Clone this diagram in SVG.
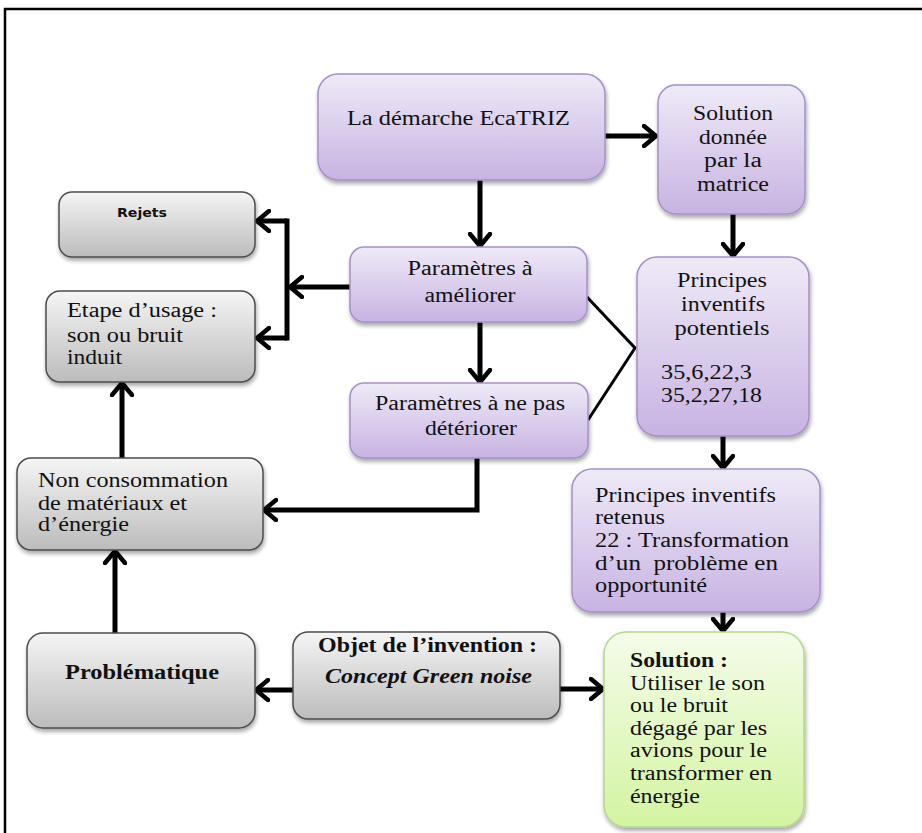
<svg xmlns="http://www.w3.org/2000/svg" width="922" height="833" viewBox="0 0 922 833">
  <style>
    .t { font-family: "Liberation Serif", "DejaVu Serif", serif; font-size: 20px; fill: #111; }
    .b { font-weight: bold; }
    .bi { font-weight: bold; font-style: italic; }
    .c { text-anchor: middle; }
    .sans { font-family: "DejaVu Sans", "Liberation Sans", sans-serif; font-weight: bold; font-size: 13px; fill: #111; }
    .purple { fill: url(#gPurple); stroke: #a590c9; stroke-width: 1.5; filter: url(#shadow); }
    .gray { fill: url(#gGray); stroke: #4d4d4d; stroke-width: 1.5; filter: url(#shadow); }
    .green { fill: url(#gGreen); stroke: #b3d98a; stroke-width: 1.5; filter: url(#shadow); }
    .arrow { fill: none; stroke: #000; stroke-width: 5; marker-end: url(#head); }
    .plain { fill: none; stroke: #000; stroke-width: 3; }
  </style>
  <defs>
    <linearGradient id="gPurple" x1="0" y1="0" x2="0" y2="1">
      <stop offset="0" stop-color="#efeaf7"/>
      <stop offset="1" stop-color="#c7b3e2"/>
    </linearGradient>
    <linearGradient id="gGray" x1="0" y1="0" x2="0" y2="1">
      <stop offset="0" stop-color="#f5f5f5"/>
      <stop offset="1" stop-color="#bcbcbc"/>
    </linearGradient>
    <linearGradient id="gGreen" x1="0" y1="0" x2="0" y2="1">
      <stop offset="0" stop-color="#f4fce9"/>
      <stop offset="1" stop-color="#d3f4a2"/>
    </linearGradient>
    <filter id="shadow" x="-10%" y="-10%" width="125%" height="130%">
      <feGaussianBlur in="SourceAlpha" stdDeviation="2"/>
      <feOffset dx="1" dy="3" result="off"/>
      <feComponentTransfer><feFuncA type="linear" slope="0.35"/></feComponentTransfer>
      <feMerge><feMergeNode/><feMergeNode in="SourceGraphic"/></feMerge>
    </filter>
    <marker id="head" viewBox="0 0 17 24" markerWidth="17" markerHeight="24" refX="14" refY="12" orient="auto" markerUnits="userSpaceOnUse">
      <path d="M2,2 L14,12 L2,22" fill="none" stroke="#000" stroke-width="4.5" stroke-linejoin="round" stroke-linecap="round"/>
    </marker>
  </defs>

  <rect width="922" height="833" fill="#fff"/>
  <!-- page frame -->
  <path d="M5,833 V9 H922" fill="none" stroke="#000" stroke-width="2.5"/>

  <g id="connectors">
    <line class="arrow" x1="605" y1="136" x2="656" y2="136"/>
    <line class="arrow" x1="480" y1="180" x2="480" y2="246"/>
    <line class="arrow" x1="733" y1="214" x2="733" y2="256"/>
    <line class="arrow" x1="480" y1="322" x2="480" y2="382"/>
    <line class="arrow" x1="350" y1="287" x2="290" y2="287"/>
    <path d="M287,218.5 V340.5" fill="none" stroke="#000" stroke-width="5"/>
    <line class="arrow" x1="287" y1="221" x2="257" y2="221"/>
    <line class="arrow" x1="287" y1="338" x2="257" y2="338"/>
    <polyline class="plain" points="587,297 635,348 588,420"/>
    <line class="arrow" x1="723" y1="436" x2="723" y2="468"/>
    <line class="arrow" x1="723" y1="612" x2="723" y2="631"/>
    <path class="arrow" d="M477,458 V510 H264"/>
    <line class="arrow" x1="122" y1="458" x2="122" y2="383"/>
    <line class="arrow" x1="115" y1="633" x2="115" y2="551"/>
    <line class="arrow" x1="293" y1="690" x2="256" y2="690"/>
    <line class="arrow" x1="560" y1="689" x2="603" y2="689"/>
  </g>

  <g id="ecatriz">
    <rect class="purple" x="318" y="74" width="287" height="106" rx="20"/>
    <text class="t" x="347" y="125" textLength="223" lengthAdjust="spacingAndGlyphs">La démarche EcaTRIZ</text>
  </g>

  <g id="solution-matrice">
    <rect class="purple" x="658" y="85" width="147" height="129" rx="18"/>
    <text class="t c" x="733" y="120" textLength="80" lengthAdjust="spacingAndGlyphs">Solution</text>
    <text class="t c" x="733" y="144" textLength="68" lengthAdjust="spacingAndGlyphs">donnée</text>
    <text class="t c" x="733" y="167" textLength="58" lengthAdjust="spacingAndGlyphs">par la</text>
    <text class="t c" x="733" y="191" textLength="72" lengthAdjust="spacingAndGlyphs">matrice</text>
  </g>

  <g id="parametres-ameliorer">
    <rect class="purple" x="350" y="247" width="237" height="75" rx="14"/>
    <text class="t c" x="470" y="275" textLength="125" lengthAdjust="spacingAndGlyphs">Paramètres à</text>
    <text class="t c" x="470" y="302" textLength="91" lengthAdjust="spacingAndGlyphs">améliorer</text>
  </g>

  <g id="parametres-deteriorer">
    <rect class="purple" x="350" y="383" width="238" height="75" rx="14"/>
    <text class="t c" x="470" y="410" textLength="190" lengthAdjust="spacingAndGlyphs">Paramètres à ne pas</text>
    <text class="t c" x="471" y="435" textLength="92" lengthAdjust="spacingAndGlyphs">détériorer</text>
  </g>

  <g id="principes-potentiels">
    <rect class="purple" x="637" y="257" width="172" height="179" rx="20"/>
    <text class="t c" x="722" y="287" textLength="90" lengthAdjust="spacingAndGlyphs">Principes</text>
    <text class="t c" x="723" y="311" textLength="84" lengthAdjust="spacingAndGlyphs">inventifs</text>
    <text class="t c" x="722" y="335" textLength="95" lengthAdjust="spacingAndGlyphs">potentiels</text>
    <text class="t" x="661" y="379" textLength="91" lengthAdjust="spacingAndGlyphs">35,6,22,3</text>
    <text class="t" x="661" y="402" textLength="101" lengthAdjust="spacingAndGlyphs">35,2,27,18</text>
  </g>

  <g id="principes-retenus">
    <rect class="purple" x="572" y="469" width="248" height="143" rx="20"/>
    <text class="t" x="595" y="502" textLength="181" lengthAdjust="spacingAndGlyphs">Principes inventifs</text>
    <text class="t" x="595" y="524" textLength="70" lengthAdjust="spacingAndGlyphs">retenus</text>
    <text class="t" x="595" y="547" textLength="194" lengthAdjust="spacingAndGlyphs">22 : Transformation</text>
    <text class="t" x="595" y="570" textLength="183" lengthAdjust="spacingAndGlyphs" xml:space="preserve">d’un  problème en</text>
    <text class="t" x="595" y="592" textLength="112" lengthAdjust="spacingAndGlyphs">opportunité</text>
  </g>

  <g id="rejets">
    <rect class="gray" x="59" y="192" width="196" height="65" rx="13"/>
    <text class="sans" x="117" y="217" textLength="50" lengthAdjust="spacingAndGlyphs">Rejets</text>
  </g>

  <g id="etape-usage">
    <rect class="gray" x="46" y="291" width="209" height="91" rx="14"/>
    <text class="t" x="67" y="317" textLength="150" lengthAdjust="spacingAndGlyphs">Etape d’usage :</text>
    <text class="t" x="67" y="342" textLength="116" lengthAdjust="spacingAndGlyphs">son ou bruit</text>
    <text class="t" x="67" y="364" textLength="55" lengthAdjust="spacingAndGlyphs">induit</text>
  </g>

  <g id="non-consommation">
    <rect class="gray" x="17" y="458" width="246" height="92" rx="14"/>
    <text class="t" x="38" y="487" textLength="190" lengthAdjust="spacingAndGlyphs">Non consommation</text>
    <text class="t" x="38" y="510" textLength="149" lengthAdjust="spacingAndGlyphs">de matériaux et</text>
    <text class="t" x="38" y="531" textLength="91" lengthAdjust="spacingAndGlyphs">d’énergie</text>
  </g>

  <g id="problematique">
    <rect class="gray" x="27" y="633" width="228" height="95" rx="16"/>
    <text class="t b" x="65" y="679" textLength="154" lengthAdjust="spacingAndGlyphs">Problématique</text>
  </g>

  <g id="objet-invention">
    <rect class="gray" x="293" y="632" width="267" height="87" rx="15"/>
    <text class="t b" x="318" y="652" textLength="219" lengthAdjust="spacingAndGlyphs">Objet de l’invention :</text>
    <text class="t bi" x="325" y="683" textLength="207" lengthAdjust="spacingAndGlyphs">Concept Green noise</text>
  </g>

  <g id="solution-finale">
    <rect class="green" x="604" y="632" width="200" height="195" rx="22"/>
    <text class="t b" x="630" y="667" textLength="98" lengthAdjust="spacingAndGlyphs">Solution :</text>
    <text class="t" x="630" y="690" textLength="135" lengthAdjust="spacingAndGlyphs">Utiliser le son</text>
    <text class="t" x="630" y="712" textLength="98" lengthAdjust="spacingAndGlyphs">ou le bruit</text>
    <text class="t" x="630" y="735" textLength="137" lengthAdjust="spacingAndGlyphs">dégagé par les</text>
    <text class="t" x="630" y="757" textLength="137" lengthAdjust="spacingAndGlyphs">avions pour le</text>
    <text class="t" x="630" y="780" textLength="142" lengthAdjust="spacingAndGlyphs">transformer en</text>
    <text class="t" x="630" y="803" textLength="70" lengthAdjust="spacingAndGlyphs">énergie</text>
  </g>
</svg>
